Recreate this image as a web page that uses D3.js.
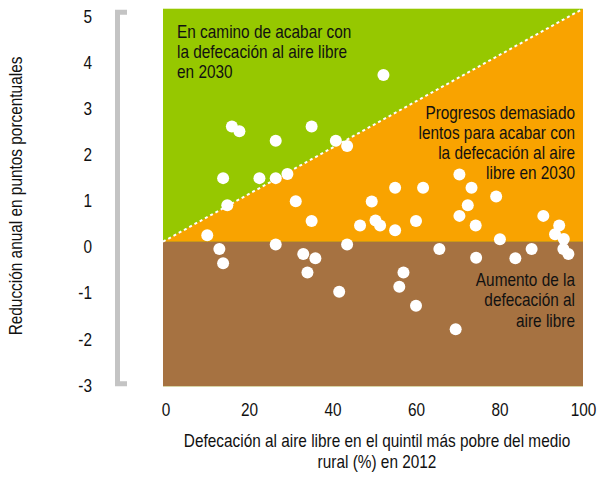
<!DOCTYPE html>
<html><head><meta charset="utf-8">
<script src="https://cdn.jsdelivr.net/npm/d3@7"></script>
<style>
body{margin:0;background:#fff;}
text{font-family:"Liberation Sans",Arial,sans-serif;fill:#111;}
</style></head><body>
<svg id="c" width="597" height="477"></svg>
<script>
const xVals = [52.2,15.9,17.7,35.0,26.4,40.8,43.5,13.8,22.5,26.4,29.2,55.0,31.2,49.4,14.8,70.4,61.7,73.3,79.2,72.4,70.4,35.0,46.6,50.3,51.4,55.0,10.0,12.9,26.4,43.5,13.8,33.0,35.9,34.0,41.6,60.0,74.3,90.5,94.3,93.3,95.4,80.1,65.6,74.4,83.8,87.7,95.3,96.5,57.0,56.0,60.0,69.5];
const yVals = [3.74,2.62,2.52,2.62,2.31,2.31,2.20,1.50,1.50,1.50,1.59,1.29,1.00,0.99,0.91,1.58,1.29,1.29,1.10,0.91,0.68,0.57,0.47,0.58,0.47,0.37,0.26,-0.04,0.06,0.06,-0.35,-0.15,-0.24,-0.55,-0.97,0.57,0.47,0.68,0.47,0.28,0.18,0.17,-0.04,-0.23,-0.24,-0.04,-0.04,-0.15,-0.55,-0.86,-1.27,-1.78];
const xTicks = [0,20,40,60,80,100];
const yTicks = [5,4,3,2,1,0,-1,-2,-3];
const xTitle = ["Defecación al aire libre en el quintil más pobre del medio","rural (%) en 2012"];
const yTitle = "Reducción anual en puntos porcentuales";
const noteGreen = ["En camino de acabar con","la defecación al aire libre","en 2030"];
const noteOrange = ["Progresos demasiado","lentos para acabar con","la defecación al aire","libre en 2030"];
const noteBrown = ["Aumento de la","defecación al","aire libre"];
const region = {xMin:-0.6, xMax:100, yMin:-3.02, yMax:5.18, split:0.12};

const SX = 0.855, FS = 18;
const svg = d3.select("#c");
const x = d3.scaleLinear().domain([0,100]).range([165.5,583]);
const y = d3.scaleLinear().domain([-3,5]).range([385.3,17.0]);

// regions
const R = region;
svg.append("rect").attr("x",x(R.xMin)).attr("y",y(R.yMax)).attr("width",x(R.xMax)-x(R.xMin)).attr("height",y(R.yMin)-y(R.yMax)).attr("fill","#96c800");
svg.append("path").attr("d",d3.line().x(d=>x(d[0])).y(d=>y(d[1]))([[R.xMin,R.split],[R.xMax,R.yMax],[R.xMax,R.split]])+"Z").attr("fill","#f9a300");
svg.append("rect").attr("x",x(R.xMin)).attr("y",y(R.split)).attr("width",x(R.xMax)-x(R.xMin)).attr("height",y(R.yMin)-y(R.split)).attr("fill","#a67241");
svg.append("line").attr("x1",x(R.xMin)).attr("y1",y(R.split)).attr("x2",x(R.xMax)).attr("y2",y(R.yMax))
  .attr("stroke","#fff").attr("stroke-width",2).attr("stroke-dasharray","3,3");

// bracket
svg.append("path").attr("d",`M127,${y(R.yMax)+3.5}H117.5V${y(R.yMin)-2.5}H127`).attr("fill","none").attr("stroke","#c4c4c4").attr("stroke-width",5);

// points
svg.append("g").selectAll("circle").data(xVals.map((v,i)=>[v,yVals[i]])).join("circle")
  .attr("cx",d=>x(d[0])).attr("cy",d=>y(d[1])).attr("r",6).attr("fill","#fff");

// axes
const xa = svg.append("g").attr("transform","translate(0,410)")
  .call(d3.axisBottom(x).tickValues(xTicks).tickFormat(d=>String(d)).tickSize(0).tickPadding(0));
xa.select(".domain").remove();
xa.selectAll("text").attr("font-size",FS).attr("dy","0.35em").attr("y",0).attr("transform",`scale(${SX},1)`);
const ya = svg.append("g").attr("transform","translate(92,0)")
  .call(d3.axisLeft(y).tickValues(yTicks).tickFormat(d=>String(d)).tickSize(0).tickPadding(0));
ya.select(".domain").remove();
ya.selectAll("text").attr("font-size",FS).attr("transform",`scale(${SX},1)`);
svg.selectAll(".tick text").attr("fill","#111").style("font-family",null);

function ntext(lines,xx,y0,anchor,lh,rot){
  const g = svg.append("g").attr("transform",`translate(${xx},${y0}) rotate(${rot||0}) scale(${SX},1)`);
  g.append("text").attr("text-anchor",anchor).attr("font-size",FS)
   .selectAll("tspan").data(lines).join("tspan").attr("x",0).attr("y",(d,i)=>i*lh).text(d=>d);
}
ntext(xTitle,377,447,"middle",21.5);
ntext([yTitle],22,196,"middle",0,-90);
ntext(noteGreen,177,38,"start",20);
ntext(noteOrange,575,119,"end",20);
ntext(noteBrown,575,286,"end",20.5);
</script></body></html>
